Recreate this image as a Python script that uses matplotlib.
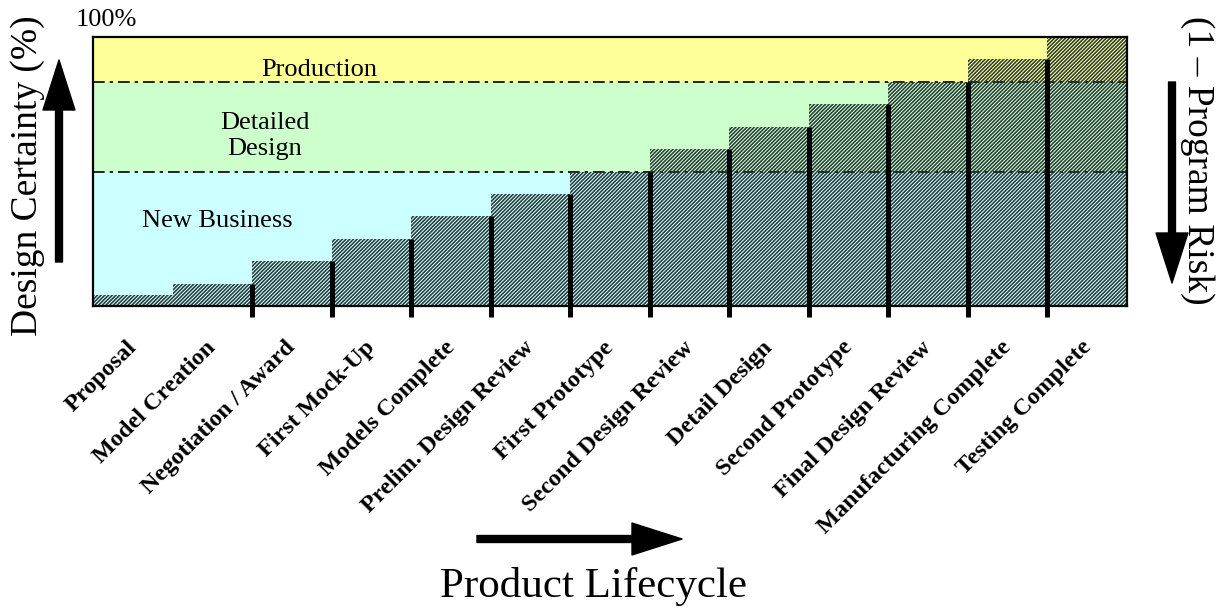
import matplotlib
matplotlib.use("Agg")
import matplotlib.pyplot as plt
import numpy as np

plt.rcParams['font.family'] = ['Liberation Serif', 'DejaVu Serif']
plt.rcParams['hatch.linewidth'] = 1.1
plt.rcParams['hatch.color'] = '#263636'

# Lifecycle milestones and the design certainty reached at each one (%)
milestones = ["Proposal", "Model Creation", "Negotiation / Award", "First Mock-Up",
              "Models Complete", "Prelim. Design Review", "First Prototype",
              "Second Design Review", "Detail Design", "Second Prototype",
              "Final Design Review", "Manufacturing Complete", "Testing Complete"]
certainty = [4.2, 8.3, 16.7, 25.0, 33.3, 41.7, 50.0, 58.3, 66.7, 75.0, 83.3, 91.7, 100.0]

# Program phases as bands of certainty (%)
phase_names = ["New Business", "Detailed\nDesign", "Production"]
phase_bounds = [0.0, 50.0, 83.3, 100.0]
phase_colors = ["#ccffff", "#ccffcc", "#ffff99"]

W, H = 1223, 609
fig = plt.figure(figsize=(W / 100, H / 100), dpi=100)
ax = fig.add_axes([93 / W, 1 - 306 / H, (1127 - 93) / W, (306 - 37) / H])

n = len(milestones)
x = np.arange(n)
ax.set_xlim(-0.5, n - 0.5)
ax.set_ylim(0, 100)

# Phase bands and their dash-dot boundaries
for lo, hi, col in zip(phase_bounds[:-1], phase_bounds[1:], phase_colors):
    ax.axhspan(lo, hi, color=col, zorder=0, lw=0)
for b in phase_bounds[1:-1]:
    ax.axhline(b, color='black', lw=1.2, ls=(0, (7, 3, 2, 3)), zorder=1)

# Hatched certainty steps
ax.bar(x, certainty, width=1.0, facecolor='none', edgecolor='#263636',
       linewidth=0, hatch='/' * 9, zorder=2)

# Milestone stems at the end of each step
for i in range(1, n - 1):
    ax.vlines(i + 0.5, -4.1, certainty[i], color='black', lw=3.6, zorder=3,
              clip_on=False)

# Phase labels
label_pos = [(1.06, 31.6), (1.66, 63.2), (2.35, 87.7)]
for name, (px, py) in zip(phase_names, label_pos):
    ax.text(px, py, name, ha='center', va='center', fontsize=19,
            linespacing=1.2, zorder=4)

# Milestone labels
for i, name in enumerate(milestones):
    ax.text(i + 0.1, -11.5, name, rotation=45, ha='right', va='top',
            fontsize=17.5, fontweight='bold', clip_on=False)

ax.set_xticks([])
ax.set_yticks([])
for s in ax.spines.values():
    s.set_linewidth(1.6)
    s.set_zorder(5)

# Axis titles
fig.text(106 / W, 1 - 20 / H, "100%", ha='center', va='center', fontsize=19)
fig.text(28 / W, 1 - 176 / H, "Design Certainty (%)", rotation=90,
         ha='center', va='center', fontsize=27)
fig.text(1197 / W, 1 - 160 / H, "(1 \u2013 Program Risk)", rotation=-90,
         ha='center', va='center', fontsize=27)
fig.text(593 / W, 1 - 587 / H, "Product Lifecycle", ha='center', va='center',
         fontsize=31)


def arrow(x0, y0, x1, y1):
    fig.add_artist(matplotlib.patches.FancyArrowPatch(
        (x0 / W, 1 - y0 / H), (x1 / W, 1 - y1 / H),
        transform=fig.transFigure,
        arrowstyle='simple,head_length=3.6,head_width=2.3,tail_width=0.5',
        mutation_scale=10, color='black', shrinkA=0, shrinkB=0))


arrow(59, 262, 59, 60)
arrow(1172, 82, 1172, 283)
arrow(477, 539, 682, 539)

fig.savefig("out.png", dpi=100)
